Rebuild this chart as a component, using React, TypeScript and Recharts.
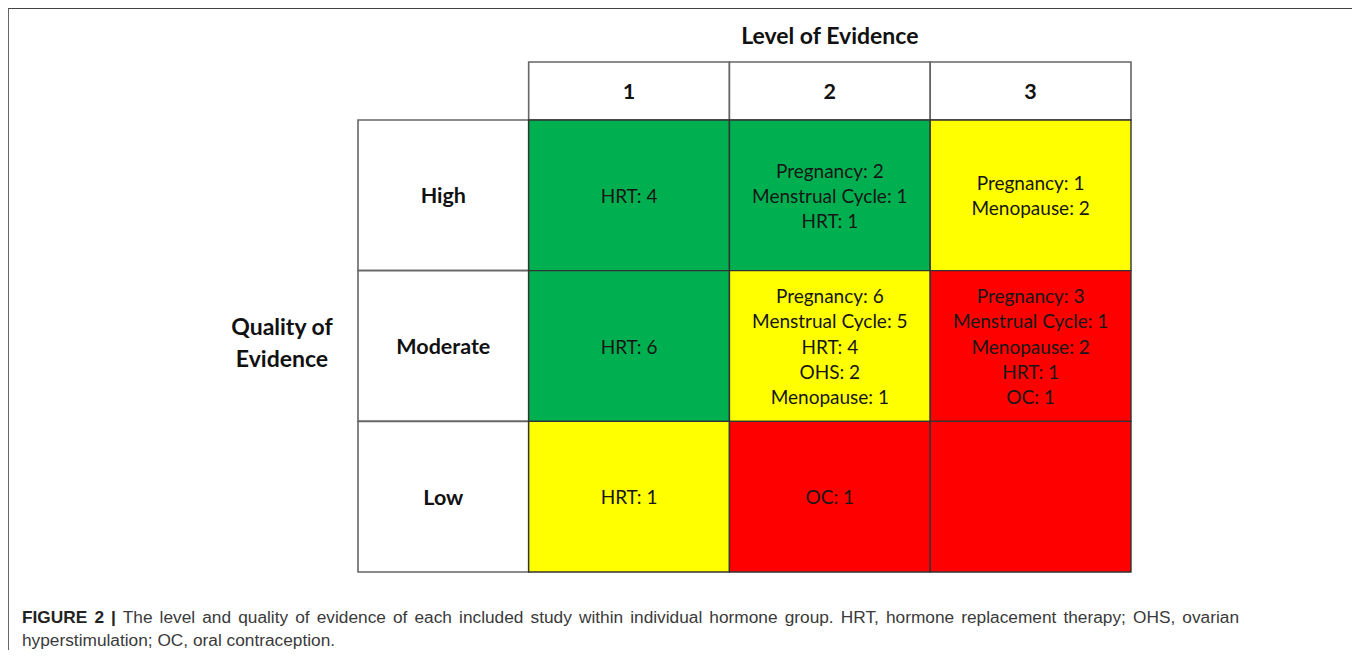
import { ComposedChart, XAxis, YAxis, ReferenceArea, Scatter } from "recharts";

// column headers (level of evidence) and row headers (quality of evidence)
const levels = ["1", "2", "3"];
const qualities = ["High", "Moderate", "Low"];

// rating of each cell, row by row (High, Moderate, Low)
const highRatings = ["good", "good", "fair"];
const moderateRatings = ["good", "fair", "poor"];
const lowRatings = ["fair", "poor", "poor"];

// studies per cell, row by row
const highStudies = [
  ["HRT: 4"],
  ["Pregnancy: 2", "Menstrual Cycle: 1", "HRT: 1"],
  ["Pregnancy: 1", "Menopause: 2"],
];
const moderateStudies = [
  ["HRT: 6"],
  ["Pregnancy: 6", "Menstrual Cycle: 5", "HRT: 4", "OHS: 2", "Menopause: 1"],
  ["Pregnancy: 3", "Menstrual Cycle: 1", "Menopause: 2", "HRT: 1", "OC: 1"],
];
const lowStudies = [["HRT: 1"], ["OC: 1"], []];

const ratings = [highRatings, moderateRatings, lowRatings];
const studies = [highStudies, moderateStudies, lowStudies];

const ratingFill: Record<string, string> = {
  good: "#00B050",
  fair: "#FFFF00",
  poor: "#FF0000",
};

const FONT = "Lato, 'Open Sans', sans-serif";
const LABEL_COL = 0.85; // width of the row header column, in column units
const HEADER_ROW = 0.385; // height of the header row, in row units

const cellData = studies.flatMap((row, r) =>
  row.map((lines, c) => ({ x: c + 0.5, y: qualities.length - r - 0.5, lines }))
);

const CellText = (props: any) => {
  const { cx, cy, payload } = props;
  const lines: string[] = payload.lines;
  return (
    <text textAnchor="middle" fontFamily={FONT} fontSize={19} fill="#161616">
      {lines.map((t, i) => (
        <tspan key={i} x={cx} y={cy + (i - (lines.length - 1) / 2) * 25.2} dominantBaseline="central">
          {t}
        </tspan>
      ))}
    </text>
  );
};

const boldLabel = (text: string) => (props: any) => {
  const { x, y, width, height } = props.viewBox;
  return (
    <text
      x={x + width / 2}
      y={y + height / 2}
      textAnchor="middle"
      dominantBaseline="central"
      fontFamily={FONT}
      fontWeight="bold"
      fontSize={21.5}
      fill="#111"
    >
      {text}
    </text>
  );
};

const levelTitle = (props: any) => {
  const { x, y, width } = props.viewBox;
  return (
    <text x={x + width / 2} y={y - 27} textAnchor="middle" dominantBaseline="central"
      fontFamily={FONT} fontWeight="bold" fontSize={23} fill="#111">
      Level of Evidence
    </text>
  );
};

const qualityTitle = (props: any) => {
  const { x, y, height } = props.viewBox;
  const mid = y + height / 2 - 4;
  return (
    <text textAnchor="middle" fontFamily={FONT} fontWeight="bold" fontSize={23} fill="#111">
      <tspan x={x - 76} y={mid - 16} dominantBaseline="central">Quality of</tspan>
      <tspan x={x - 76} y={mid + 16} dominantBaseline="central">Evidence</tspan>
    </text>
  );
};

const App = () => {
  const nRows = qualities.length;
  const nCols = levels.length;
  return (
    <div style={{ position: "relative", width: 1344, height: 642 }}>
      <div
        style={{
          position: "absolute",
          left: 0,
          top: 0,
          width: 1349,
          height: 650,
          boxSizing: "border-box",
          borderTop: "1.5px solid #444",
          borderLeft: "1.5px solid #666",
          borderRight: "1.5px solid #666",
        }}
      />
      <div style={{ position: "absolute", left: 0, top: 0 }}>
        <ComposedChart
          width={1344}
          height={580}
          margin={{ top: 54, left: 350, right: 221, bottom: 16 }}
        >
          <XAxis type="number" dataKey="x" domain={[-LABEL_COL, nCols]} hide allowDataOverflow />
          <YAxis type="number" dataKey="y" domain={[0, nRows + HEADER_ROW]} hide allowDataOverflow />

          {levels.map((lv, c) => (
            <ReferenceArea
              key={"h" + lv}
              x1={c}
              x2={c + 1}
              y1={nRows}
              y2={nRows + HEADER_ROW}
              fill="#fff"
              fillOpacity={1}
              stroke="#666"
              strokeWidth={1.6}
              label={boldLabel(lv)}
            />
          ))}
          {qualities.map((q, r) => (
            <ReferenceArea
              key={"q" + q}
              x1={-LABEL_COL}
              x2={0}
              y1={nRows - r - 1}
              y2={nRows - r}
              fill="#fff"
              fillOpacity={1}
              stroke="#666"
              strokeWidth={1.6}
              label={boldLabel(q)}
            />
          ))}
          {ratings.flatMap((row, r) =>
            row.map((rt, c) => (
              <ReferenceArea
                key={"c" + r + c}
                x1={c}
                x2={c + 1}
                y1={nRows - r - 1}
                y2={nRows - r}
                fill={ratingFill[rt]}
                fillOpacity={1}
                stroke="#333"
                strokeWidth={1.4}
              />
            ))
          )}
          <ReferenceArea x1={0} x2={nCols} y1={nRows} y2={nRows + HEADER_ROW} fill="none" stroke="none" label={levelTitle} />
          <ReferenceArea x1={-LABEL_COL} x2={0} y1={0} y2={nRows} fill="none" stroke="none" label={qualityTitle} />

          <Scatter data={cellData} dataKey="y" shape={CellText} isAnimationActive={false} />
        </ComposedChart>
      </div>
      <div
        style={{
          position: "absolute",
          left: 14,
          top: 598,
          width: 1217,
          fontFamily: "'Liberation Sans', Arial, sans-serif",
          fontSize: 17.3,
          lineHeight: "23px",
          color: "#3a3a3a",
          whiteSpace: "nowrap",
        }}
      >
        <div style={{ textAlign: "justify", textAlignLast: "justify" }}>
          <b style={{ color: "#222" }}>FIGURE 2 |</b> The level and quality of evidence of each included study within
          individual hormone group. HRT, hormone replacement therapy; OHS, ovarian
        </div>
        <div>hyperstimulation; OC, oral contraception.</div>
      </div>
    </div>
  );
};

export default App;
